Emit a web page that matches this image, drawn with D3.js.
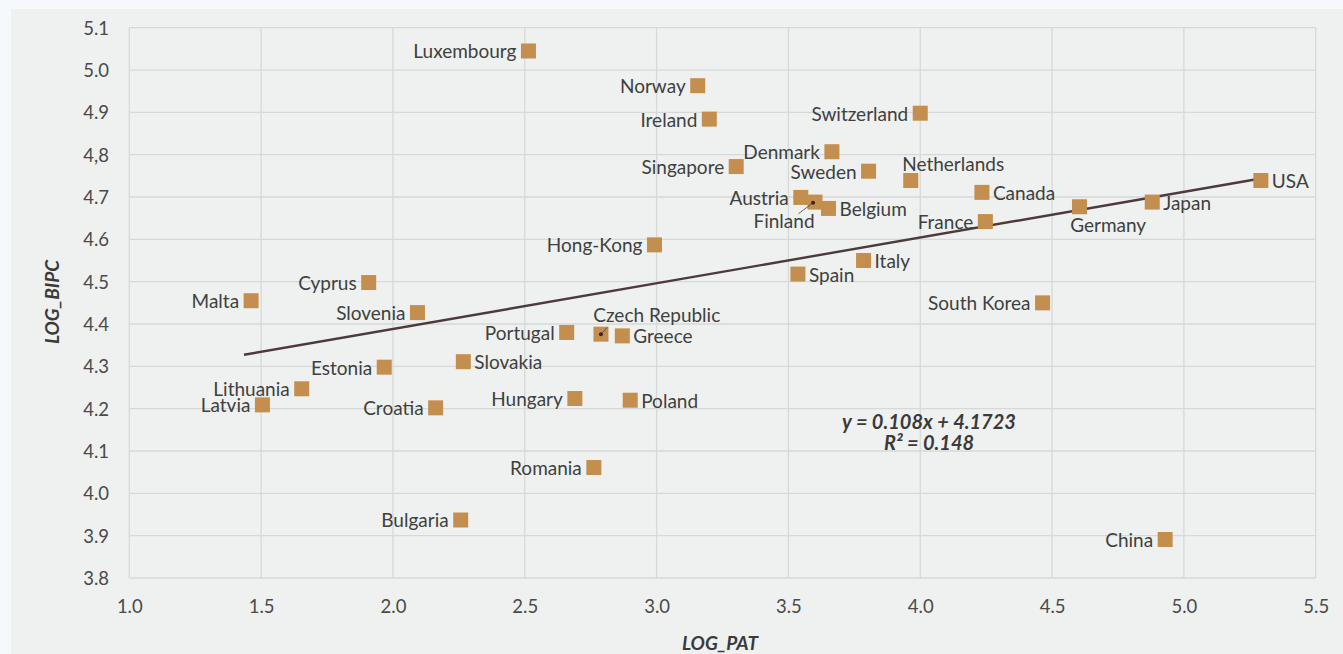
<!DOCTYPE html>
<html>
<head>
<meta charset="utf-8">
<script src="https://cdn.jsdelivr.net/npm/d3@7"></script>
<style>
  html, body { margin: 0; padding: 0; background: #f5f9fc; }
  svg { display: block; font-family: Lato, "Open Sans", sans-serif; }
</style>
</head>
<body>
<svg id="chart" width="1343" height="654"></svg>
<script>
// Countries: log of patents per capita vs log of GDP per capita
const countries = [
  "Luxembourg", "Norway", "Ireland", "Switzerland", "Singapore", "Denmark",
  "Sweden", "Netherlands", "Austria", "Finland", "Belgium", "Canada", "USA",
  "Germany", "Japan", "France", "Hong-Kong", "Italy", "Spain", "Cyprus",
  "Malta", "South Korea", "Slovenia", "Czech Republic", "Portugal", "Greece",
  "Slovakia", "Estonia", "Lithuania", "Latvia", "Croatia", "Hungary", "Poland",
  "Romania", "Bulgaria", "China"
];
const logPat = [
  2.514, 3.156, 3.200, 4.000, 3.302, 3.665,
  3.804, 3.964, 3.547, 3.601, 3.652, 4.234, 5.292,
  4.604, 4.880, 4.247, 2.992, 3.785, 3.536, 1.908,
  1.462, 4.464, 2.093, 2.789, 2.659, 2.870,
  2.267, 1.967, 1.654, 1.505, 2.162, 2.690, 2.900,
  2.762, 2.257, 4.929
];
const logBipc = [
  5.045, 4.963, 4.884, 4.898, 4.772, 4.807,
  4.761, 4.739, 4.699, 4.688, 4.673, 4.711, 4.739,
  4.677, 4.688, 4.642, 4.587, 4.550, 4.518, 4.498,
  4.455, 4.450, 4.427, 4.376, 4.380, 4.372,
  4.311, 4.298, 4.247, 4.209, 4.202, 4.224, 4.220,
  4.061, 3.937, 3.891
];

// Axis ticks
const xTicks = [1.0, 1.5, 2.0, 2.5, 3.0, 3.5, 4.0, 4.5, 5.0, 5.5];
const xTickLabels = ["1.0", "1.5", "2.0", "2.5", "3.0", "3.5", "4.0", "4.5", "5.0", "5.5"];
const yTicks = [3.8, 3.9, 4.0, 4.1, 4.2, 4.3, 4.4, 4.5, 4.6, 4.7, 4.8, 4.9, 5.0, 5.1];
const yTickLabels = ["3.8", "3.9", "4.0", "4.1", "4.2", "4.3", "4.4", "4.5", "4.6", "4.7", "4,8", "4.9", "5.0", "5.1"];

// Linear trend: y = 0.108x + 4.1723, R² = 0.148
const trendSlope = 0.108;
const trendIntercept = 4.1723;
const trendX = [1.435, 5.292];
const equationLines = ["y = 0.108x + 4.1723", "R² = 0.148"];

// Where each country's label sits relative to its marker
const labelSide = {
  "Netherlands": "top", "Germany": "bottom", "Finland": "leaderBelow",
  "Czech Republic": "leaderAbove",
  "Belgium": "right", "Italy": "right", "Spain": "right", "Canada": "right",
  "Japan": "right", "USA": "right", "Greece": "right", "Slovakia": "right",
  "Poland": "right"
};

const svg = d3.select("#chart");
const W = 1343, H = 654;

// Panel behind the chart
svg.append("rect").attr("x", 11).attr("y", 9).attr("width", W - 11).attr("height", H - 9)
  .attr("fill", "#eef1ef");

const m = { left: 129.3, right: 1315.7, top: 27.7, bottom: 578 };
const x = d3.scaleLinear().domain([1.0, 5.5]).range([m.left, m.right]);
const y = d3.scaleLinear().domain([3.8, 5.1]).range([m.bottom, m.top]);

const gridColor = "#d6d9d7";
const textColor = "#404040";

// Grid
const grid = svg.append("g");
grid.selectAll("line.v").data(xTicks).join("line")
  .attr("x1", d => x(d)).attr("x2", d => x(d))
  .attr("y1", m.top).attr("y2", m.bottom)
  .attr("stroke", gridColor).attr("stroke-width", 1.3);
grid.selectAll("line.h").data(yTicks).join("line")
  .attr("x1", m.left).attr("x2", m.right)
  .attr("y1", d => y(d)).attr("y2", d => y(d))
  .attr("stroke", gridColor).attr("stroke-width", 1.3);

// Axes (labels only, gridlines serve as ticks)
const xAxis = d3.axisBottom(x).tickValues(xTicks)
  .tickFormat((d, i) => xTickLabels[i]).tickSize(0).tickPadding(0);
const gx = svg.append("g").attr("transform", `translate(0,${m.bottom})`).call(xAxis);
gx.select(".domain").remove();
gx.selectAll("text").attr("y", 29).attr("dy", "0.35em")
  .attr("font-size", 18.5).attr("fill", "#4a4a4a").attr("font-family", "Lato");

const yAxis = d3.axisLeft(y).tickValues(yTicks)
  .tickFormat((d, i) => yTickLabels[i]).tickSize(0).tickPadding(0);
const gy = svg.append("g").attr("transform", `translate(109,0)`).call(yAxis);
gy.select(".domain").remove();
gy.selectAll("text").attr("x", 0).attr("dy", "0.35em")
  .attr("font-size", 18.5).attr("fill", "#4a4a4a").attr("font-family", "Lato");

// Axis titles
svg.append("text").attr("x", 720).attr("y", 643).attr("dy", "0.35em")
  .attr("text-anchor", "middle").attr("font-size", 19).attr("font-weight", "bold")
  .attr("font-style", "italic").attr("fill", "#3a3a3a").text("LOG_PAT");
svg.append("text").attr("transform", "translate(52,302) rotate(-90)").attr("dy", "0.35em")
  .attr("text-anchor", "middle").attr("font-size", 19).attr("font-weight", "bold")
  .attr("font-style", "italic").attr("fill", "#3a3a3a").text("LOG_BIPC");

// Trend line
svg.append("line")
  .attr("x1", x(trendX[0])).attr("y1", y(trendSlope * trendX[0] + trendIntercept))
  .attr("x2", x(trendX[1])).attr("y2", y(trendSlope * trendX[1] + trendIntercept))
  .attr("stroke", "#4d3a3c").attr("stroke-width", 2.4);

// Markers
const pts = countries.map((c, i) => ({ name: c, px: x(logPat[i]), py: y(logBipc[i]) }));
const S = 15;
svg.append("g").selectAll("rect").data(pts).join("rect")
  .attr("x", d => d.px - S / 2).attr("y", d => d.py - S / 2)
  .attr("width", S).attr("height", S)
  .attr("fill", "#c48f4e");

// Labels
const lab = svg.append("g").attr("font-size", 19).attr("fill", textColor);
pts.forEach(d => {
  const side = labelSide[d.name] || "left";
  const t = lab.append("text").attr("dy", "0.35em").text(d.name);
  if (side === "left") {
    t.attr("x", d.px - S / 2 - 4.5).attr("y", d.py + 0.8).attr("text-anchor", "end");
  } else if (side === "right") {
    t.attr("x", d.px + S / 2 + 3.5).attr("y", d.py + 0.8).attr("text-anchor", "start");
  } else if (side === "top") {
    t.attr("x", d.px - 8.5).attr("y", d.py - 16.3).attr("text-anchor", "start");
  } else if (side === "bottom") {
    t.attr("x", d.px - 9.3).attr("y", d.py + 18.3).attr("text-anchor", "start");
  } else if (side === "leaderBelow") {
    t.attr("x", d.px - 0.5).attr("y", d.py + 19).attr("text-anchor", "end");
    lab.append("line").attr("x1", d.px - 2).attr("y1", d.py + 0.6)
      .attr("x2", d.px - 16.5).attr("y2", d.py + 11.6)
      .attr("stroke", "#4d3a3c").attr("stroke-width", 0.8);
    lab.append("circle").attr("cx", d.px - 2).attr("cy", d.py + 0.6).attr("r", 2)
      .attr("fill", "#3a2228");
  } else if (side === "leaderAbove") {
    t.attr("x", d.px - 7.7).attr("y", d.py - 19).attr("text-anchor", "start");
    lab.append("line").attr("x1", d.px).attr("y1", d.py)
      .attr("x2", d.px + 6.3).attr("y2", d.py - 6.7)
      .attr("stroke", "#4d3a3c").attr("stroke-width", 0.8);
    lab.append("circle").attr("cx", d.px).attr("cy", d.py).attr("r", 2)
      .attr("fill", "#3a2228");
  }
});

// Trend equation
const eq = svg.append("g").attr("font-size", 20).attr("font-weight", "bold")
  .attr("font-style", "italic").attr("fill", "#3a3a3a").attr("text-anchor", "middle");
eq.selectAll("text").data(equationLines).join("text")
  .attr("x", 929).attr("y", (d, i) => 421.7 + i * 21).attr("dy", "0.35em")
  .text(d => d);
</script>
</body>
</html>
